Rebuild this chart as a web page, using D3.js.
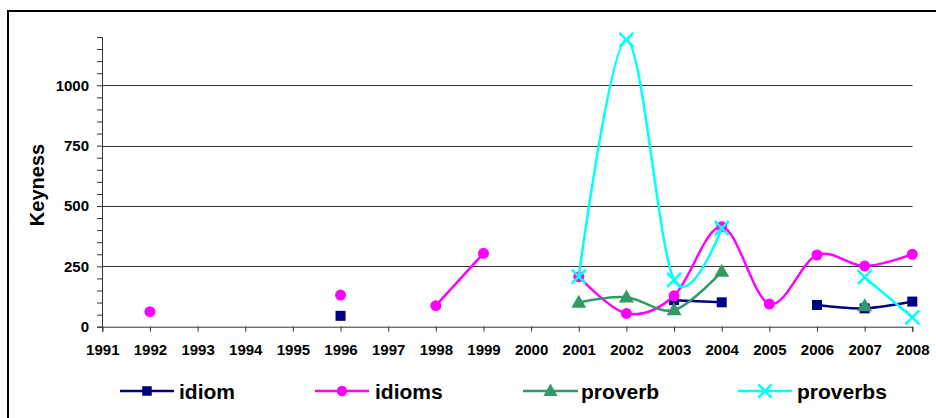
<!DOCTYPE html>
<html>
<head>
<meta charset="utf-8">
<script src="https://cdn.jsdelivr.net/npm/d3@7"></script>
<style>
  html, body { margin: 0; padding: 0; background: #fff; }
  svg { display: block; font-family: "Liberation Sans", Arial, sans-serif; }
</style>
</head>
<body>
<svg id="chart" width="936" height="418"></svg>
<script>
const years = [1991,1992,1993,1994,1995,1996,1997,1998,1999,2000,2001,2002,2003,2004,2005,2006,2007,2008];
const idiom    = [null,null,null,null,null,45,null,null,null,null,null,null,110,101,null,90,76,104];
const idioms   = [null,62,null,null,null,131,null,87,304,null,207,55,128,414,94,297,251,300];
const proverb  = [null,null,null,null,null,null,null,null,null,null,100,122,69,228,null,null,86,null];
const proverbs = [null,null,null,null,null,null,null,null,null,null,207,1188,194,408,null,null,205,39];
const seriesNames = ["idiom","idioms","proverb","proverbs"];
const yTicks = [0,250,500,750,1000];
const yMinorTicks = d3.range(0, 1201, 50);

const series = [
  {name: seriesNames[0], values: idiom,    color: "#000080", marker: "square"},
  {name: seriesNames[1], values: idioms,   color: "#FF00FF", marker: "circle"},
  {name: seriesNames[2], values: proverb,  color: "#339966", marker: "triangle"},
  {name: seriesNames[3], values: proverbs, color: "#00FFFF", marker: "cross"}
];

const svg = d3.select("#chart");

// outer frame
svg.append("rect").attr("x", 8).attr("y", 11).attr("width", 940).attr("height", 420)
  .attr("fill", "none").attr("stroke", "#000").attr("stroke-width", 2);

const x = d3.scalePoint().domain(years).range([102.3, 912.3]);
const y = d3.scaleLinear().domain([0, 1200]).range([326.7, 37]);

// gridlines
svg.append("g").selectAll("line").data(yTicks.filter(d => d > 0)).join("line")
  .attr("x1", 102).attr("x2", 912.5)
  .attr("y1", d => Math.round(y(d)) + 0.5).attr("y2", d => Math.round(y(d)) + 0.5)
  .attr("stroke", "#333").attr("stroke-width", 1);

// y axis with minor ticks
const yAxisG = svg.append("g").attr("transform", "translate(102,0)");
yAxisG.call(d3.axisLeft(y).tickValues(yMinorTicks).tickSize(5).tickFormat(""))
  .call(g => g.select(".domain").attr("stroke", "#333"))
  .call(g => g.selectAll(".tick line").attr("stroke", "#333"));
const yAxisLabels = svg.append("g").attr("transform", "translate(102,0)");
yAxisLabels.call(d3.axisLeft(y).tickValues(yTicks).tickSize(0).tickPadding(13).tickFormat(d3.format("d")))
  .call(g => g.select(".domain").remove())
  .call(g => g.selectAll("text").attr("font-size", "15px").attr("font-weight", "bold")
    .attr("font-family", "'Liberation Sans', Arial, sans-serif").attr("fill", "#000"));

// x axis
const xAxisG = svg.append("g").attr("transform", `translate(0,${y(0)})`);
xAxisG.call(d3.axisBottom(x).tickSize(5).tickPadding(13).tickFormat(d3.format("d")))
  .call(g => g.select(".domain").attr("stroke", "#333"))
  .call(g => g.selectAll(".tick line").attr("stroke", "#333"))
  .call(g => g.selectAll("text").attr("font-size", "15px").attr("font-weight", "bold")
    .attr("font-family", "'Liberation Sans', Arial, sans-serif").attr("fill", "#000"));

// y title
svg.append("text")
  .attr("transform", "translate(44,185) rotate(-90)")
  .attr("text-anchor", "middle")
  .attr("font-size", "20px").attr("font-weight", "bold").attr("fill", "#000")
  .text("Keyness");

const line = d3.line()
  .defined(d => d.v != null)
  .x(d => x(d.year)).y(d => y(d.v))
  .curve(d3.curveCatmullRom.alpha(0));

function drawMarker(g, type, color, cx, cy, scale = 1) {
  if (type === "square") {
    const s = 10 * scale;
    g.append("rect").attr("x", cx - s/2).attr("y", cy - s/2).attr("width", s).attr("height", s)
      .attr("fill", color);
  } else if (type === "circle") {
    g.append("circle").attr("cx", cx).attr("cy", cy).attr("r", 5.5 * scale).attr("fill", color);
  } else if (type === "triangle") {
    const w = 15 * scale, h = 13 * scale;
    g.append("path").attr("d", `M${cx},${cy - h*0.6}L${cx + w/2},${cy + h*0.4}L${cx - w/2},${cy + h*0.4}Z`)
      .attr("fill", color);
  } else if (type === "cross") {
    const s = 7 * scale;
    g.append("path").attr("d", `M${cx - s},${cy - s}L${cx + s},${cy + s}M${cx - s},${cy + s}L${cx + s},${cy - s}`)
      .attr("stroke", color).attr("stroke-width", 2.5).attr("fill", "none");
  }
}

series.forEach(s => {
  const data = years.map((yr, i) => ({year: yr, v: s.values[i]}));
  const g = svg.append("g");
  g.append("path").datum(data).attr("d", line)
    .attr("fill", "none").attr("stroke", s.color).attr("stroke-width", 2.5);
  data.filter(d => d.v != null).forEach(d => drawMarker(g, s.marker, s.color, x(d.year), y(d.v)));
});

// legend
const legendItems = [
  {lx1: 120, lx2: 174, tx: 179},
  {lx1: 315, lx2: 369, tx: 375},
  {lx1: 523, lx2: 578, tx: 581},
  {lx1: 738, lx2: 792, tx: 797}
];
const ly = 391;
series.forEach((s, i) => {
  const it = legendItems[i];
  const g = svg.append("g");
  g.append("line").attr("x1", it.lx1).attr("x2", it.lx2).attr("y1", ly).attr("y2", ly)
    .attr("stroke", s.color).attr("stroke-width", 2.5);
  drawMarker(g, s.marker, s.color, (it.lx1 + it.lx2) / 2, ly, 0.95);
  g.append("text").attr("x", it.tx).attr("y", ly + 8)
    .attr("font-size", "21px").attr("font-weight", "bold").attr("fill", "#000")
    .text(s.name);
});
</script>
</body>
</html>
